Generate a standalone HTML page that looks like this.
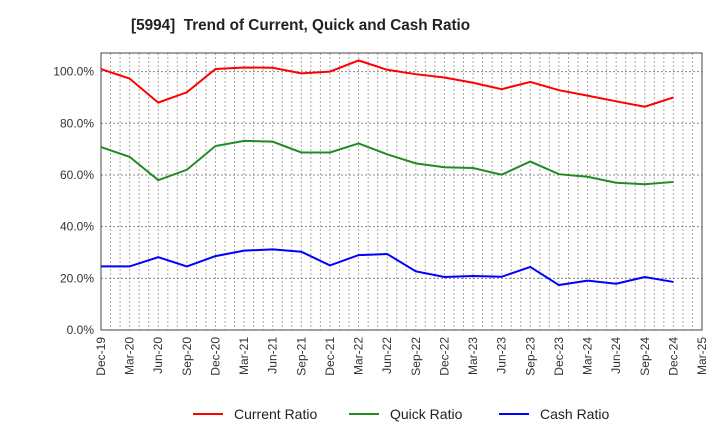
<!DOCTYPE html>
<html><head><meta charset="utf-8"><style>
body{margin:0;background:#fff;}
svg{display:block;font-family:"Liberation Sans",sans-serif;}
</style></head><body>
<svg id="chart" width="720" height="440">
<text x="131" y="30" font-size="15.3" font-weight="bold" fill="#222" xml:space="preserve" style="white-space:pre">[5994]  Trend of Current, Quick and Cash Ratio</text>
<g id="grid"></g><g id="axes"></g><g id="series"></g><g id="legend"></g>
</svg>
<script>
const categories=["Dec-19","Mar-20","Jun-20","Sep-20","Dec-20","Mar-21","Jun-21","Sep-21","Dec-21","Mar-22","Jun-22","Sep-22","Dec-22","Mar-23","Jun-23","Sep-23","Dec-23","Mar-24","Jun-24","Sep-24","Dec-24","Mar-25"];
const currentRatio=[101,97.3,88,92,101,101.6,101.5,99.3,100,104.3,100.7,99,97.7,95.7,93.2,96,92.8,90.7,88.5,86.4,90];
const quickRatio=[70.8,67,58,62,71.2,73.2,72.9,68.7,68.7,72.2,68,64.5,63,62.7,60.1,65.2,60.3,59.3,57,56.4,57.3];
const cashRatio=[24.6,24.6,28.2,24.6,28.6,30.7,31.2,30.3,25,29,29.4,22.7,20.5,20.9,20.6,24.4,17.4,19.1,17.9,20.5,18.6];
const yTicks=[0,20,40,60,80,100];
const yTickLabels=["0.0%","20.0%","40.0%","60.0%","80.0%","100.0%"];
const seriesNames=["Current Ratio","Quick Ratio","Cash Ratio"];
const seriesColors=["#ff0000","#228b22","#0000ff"];

const NS="http://www.w3.org/2000/svg";
const L=101,R=702,T=53,B=330,yMax=107.2;
const x=i=>L+(R-L)*i/(categories.length-1);
const y=v=>B-(B-T)*v/yMax;
function mk(tag,attrs,parent){const e=document.createElementNS(NS,tag);for(const k in attrs)e.setAttribute(k,attrs[k]);parent.appendChild(e);return e;}
const grid=document.getElementById('grid'),axes=document.getElementById('axes'),ser=document.getElementById('series'),leg=document.getElementById('legend');
for(let m=0;m<=(categories.length-1)*3;m++){
  const xx=L+(R-L)*m/((categories.length-1)*3);
  const g=mk('line',{x1:xx,x2:xx,y1:T,y2:B,stroke:'#aaa','stroke-width':1,'stroke-dasharray':'2,2'},grid);
  
  
}
yTicks.forEach((v,i)=>{
  const g=mk('line',{x1:L,x2:R,y1:y(v),y2:y(v),stroke:'#888','stroke-width':1,'stroke-dasharray':'2,2'},grid);
  
  
  const t=mk('text',{x:L-7,y:y(v)+4,'text-anchor':'end','font-size':12,fill:'#333'},axes);
  t.textContent=yTickLabels[i];
  
  
});
categories.forEach((c,i)=>{
  const t=mk('text',{x:0,y:0,'text-anchor':'end','font-size':12,fill:'#333',transform:`translate(${x(i)+4},337) rotate(-90)`},axes);
  t.textContent=c;
  
  
});
const frame=mk('rect',{x:L,y:T,width:R-L,height:B-T,fill:'none',stroke:'#444','stroke-width':1},axes);


[currentRatio,quickRatio,cashRatio].forEach((d,s)=>{
  const p=mk('polyline',{points:d.map((v,i)=>x(i)+','+y(v)).join(' '),fill:'none',stroke:seriesColors[s],'stroke-width':2},ser);
  
  
});
const lx=[193,349,499];
seriesNames.forEach((n,s)=>{
  const l=mk('line',{x1:lx[s],x2:lx[s]+30,y1:414,y2:414,stroke:seriesColors[s],'stroke-width':2},leg);
  
  
  const t=mk('text',{x:lx[s]+41,y:419,'font-size':14,fill:'#222'},leg);
  t.textContent=n;
  
  
});
</script>
</body></html>
